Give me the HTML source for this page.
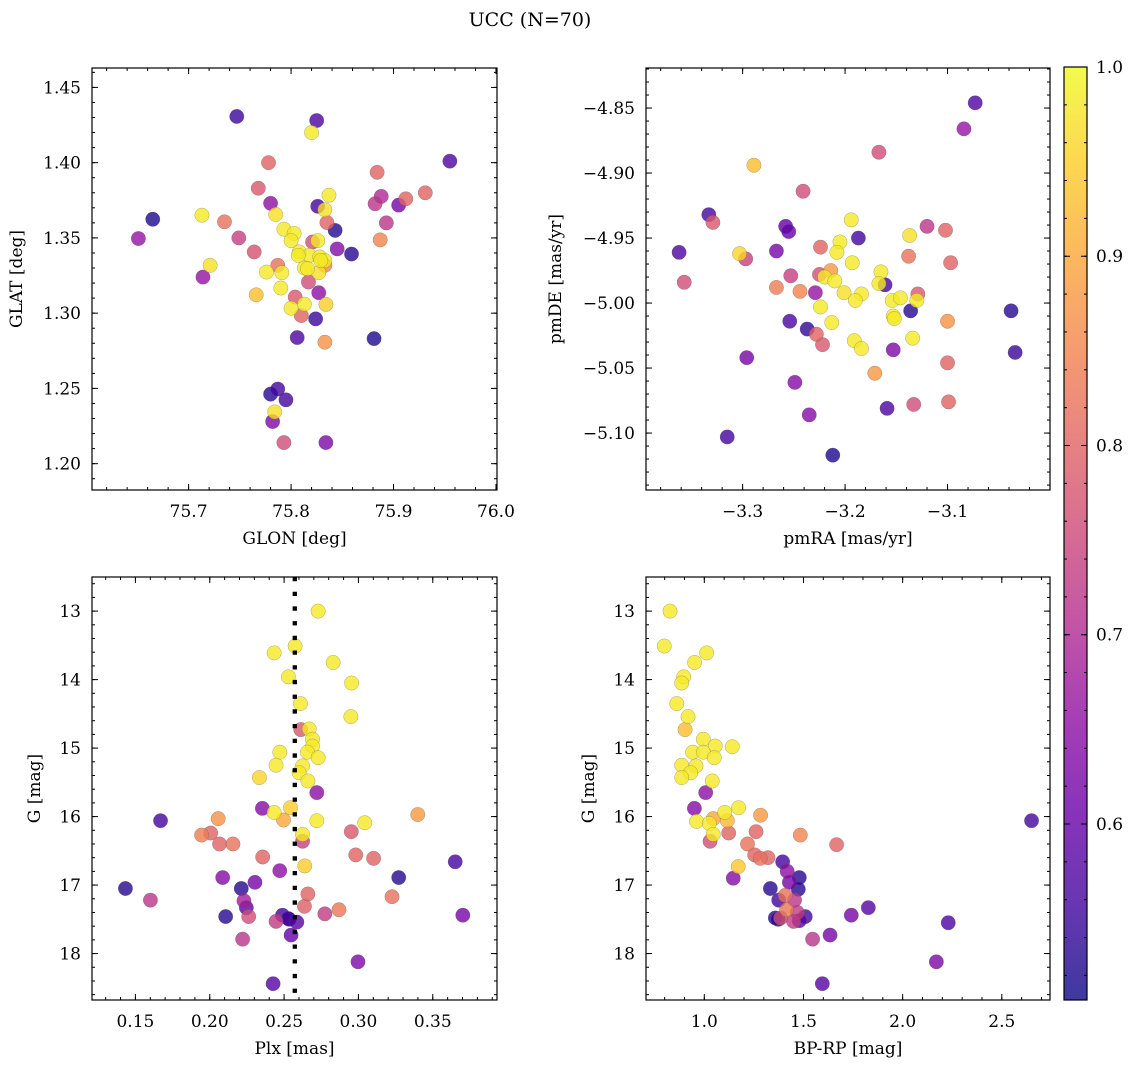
<!DOCTYPE html>
<html><head><meta charset="utf-8"><style>
body{margin:0;background:#fff;}
svg text{font-family:"DejaVu Serif","Liberation Serif",serif;fill:#000;}
</style></head><body>
<svg id="fig" width="1136" height="1067" viewBox="0 0 1136 1067" xmlns="http://www.w3.org/2000/svg">
<defs><linearGradient id="plasma" x1="0" y1="1" x2="0" y2="0">
<stop offset="0" stop-color="#0d0887"/><stop offset="0.1" stop-color="#41049d"/><stop offset="0.2" stop-color="#6a00a8"/><stop offset="0.3" stop-color="#8f0da4"/><stop offset="0.4" stop-color="#b12a90"/><stop offset="0.5" stop-color="#cc4778"/><stop offset="0.6" stop-color="#e16462"/><stop offset="0.7" stop-color="#f2844b"/><stop offset="0.8" stop-color="#fca636"/><stop offset="0.9" stop-color="#fcce25"/><stop offset="1" stop-color="#f0f921"/></linearGradient></defs>
<text x="530" y="26" font-size="19" text-anchor="middle">UCC (N=70)</text>
</svg>
<script>
// Panel 1: GLON vs GLAT
const p1Glon=[75.747,75.825,75.820,75.778,75.955,75.884,75.768,75.837,75.888,75.912,75.931,75.780,75.882,75.905,75.826,75.833,75.713,75.785,75.665,75.735,75.835,75.843,75.893,75.793,75.803,75.651,75.749,75.800,75.821,75.826,75.887,75.845,75.859,75.764,75.808,75.818,75.828,75.833,75.721,75.787,75.813,75.833,75.776,75.791,75.816,75.827,75.714,75.817,75.790,75.766,75.827,75.804,75.813,75.800,75.834,75.810,75.824,75.806,75.881,75.833,75.787,75.780,75.795,75.784,75.782,75.793,75.834,75.807,75.829];
const p1Glat=[1.4307,1.428,1.420,1.400,1.401,1.3936,1.383,1.3784,1.3776,1.376,1.380,1.373,1.3727,1.3718,1.371,1.3687,1.3651,1.3656,1.3624,1.3607,1.3602,1.355,1.360,1.3558,1.353,1.3496,1.350,1.3482,1.3473,1.3482,1.3487,1.3427,1.3393,1.3407,1.3407,1.3384,1.3373,1.335,1.3318,1.3318,1.330,1.3318,1.3273,1.3269,1.3296,1.3269,1.324,1.3207,1.3167,1.3122,1.3136,1.3107,1.306,1.3033,1.3058,1.2984,1.2962,1.2838,1.2831,1.2807,1.2496,1.2462,1.2424,1.2344,1.228,1.214,1.214,1.3384,1.335];
const p1Prob=[0.55,0.57,0.98,0.80,0.57,0.80,0.78,0.98,0.70,0.80,0.80,0.65,0.72,0.62,0.56,0.97,0.98,0.97,0.52,0.82,0.80,0.53,0.72,0.98,0.98,0.66,0.74,0.98,0.76,0.98,0.85,0.64,0.53,0.77,0.98,0.98,0.98,0.98,0.97,0.82,0.98,0.85,0.98,0.98,0.98,0.97,0.66,0.76,0.98,0.93,0.65,0.78,0.98,0.98,0.95,0.80,0.55,0.57,0.52,0.87,0.56,0.53,0.56,0.97,0.63,0.76,0.63,0.98,0.98];
// Panel 2: pmRA vs pmDE
const p2Pmra=[-3.073,-3.084,-3.167,-3.289,-3.241,-3.333,-3.329,-3.194,-3.120,-3.102,-3.258,-3.255,-3.137,-3.187,-3.205,-3.224,-3.362,-3.303,-3.267,-3.208,-3.297,-3.138,-3.097,-3.193,-3.357,-3.253,-3.225,-3.214,-3.220,-3.210,-3.165,-3.161,-3.167,-3.267,-3.244,-3.229,-3.201,-3.184,-3.190,-3.154,-3.146,-3.129,-3.130,-3.224,-3.136,-3.038,-3.153,-3.152,-3.254,-3.213,-3.100,-3.237,-3.228,-3.222,-3.191,-3.184,-3.134,-3.153,-3.034,-3.296,-3.100,-3.171,-3.249,-3.159,-3.133,-3.099,-3.235,-3.315,-3.212];
const p2Pmde=[-4.846,-4.866,-4.884,-4.894,-4.914,-4.932,-4.938,-4.936,-4.941,-4.944,-4.941,-4.945,-4.948,-4.950,-4.953,-4.957,-4.961,-4.962,-4.960,-4.961,-4.966,-4.964,-4.969,-4.969,-4.984,-4.979,-4.978,-4.975,-4.980,-4.983,-4.976,-4.986,-4.985,-4.988,-4.991,-4.992,-4.992,-4.993,-4.998,-4.998,-4.996,-4.993,-4.998,-5.003,-5.006,-5.006,-5.010,-5.012,-5.014,-5.015,-5.014,-5.020,-5.024,-5.032,-5.029,-5.035,-5.027,-5.036,-5.038,-5.042,-5.046,-5.054,-5.061,-5.081,-5.078,-5.076,-5.086,-5.103,-5.117];
const p2Prob=[0.57,0.66,0.76,0.93,0.76,0.56,0.78,0.98,0.72,0.80,0.60,0.60,0.97,0.56,0.98,0.80,0.57,0.96,0.62,0.98,0.74,0.82,0.80,0.98,0.76,0.74,0.76,0.88,0.98,0.98,0.98,0.56,0.98,0.84,0.85,0.66,0.97,0.98,0.98,0.98,0.98,0.78,0.98,0.98,0.53,0.53,0.98,0.98,0.57,0.98,0.87,0.54,0.80,0.78,0.98,0.98,0.98,0.63,0.55,0.62,0.80,0.88,0.64,0.57,0.76,0.80,0.64,0.56,0.52];
// Panel 3: Plx vs G
const p3Plx=[0.2729,0.2574,0.2433,0.2830,0.2529,0.2954,0.2610,0.2949,0.2612,0.2669,0.2691,0.2691,0.2657,0.2471,0.2729,0.2446,0.2624,0.2601,0.2660,0.2334,0.2720,0.2354,0.2543,0.2433,0.2496,0.2057,0.1669,0.2720,0.3399,0.3042,0.2006,0.1945,0.2952,0.2624,0.2624,0.2066,0.2156,0.2982,0.3102,0.2356,0.3651,0.2639,0.2471,0.2087,0.3271,0.2304,0.2212,0.1433,0.2660,0.3226,0.1601,0.2230,0.2246,0.2637,0.2869,0.2774,0.3702,0.2107,0.2262,0.2489,0.2534,0.2446,0.2586,0.2547,0.2221,0.2997,0.2426,0.2529];
const p3G=[13.00,13.51,13.61,13.75,13.96,14.05,14.35,14.54,14.73,14.72,14.87,14.97,15.06,15.06,15.14,15.25,15.26,15.36,15.48,15.43,15.65,15.88,15.87,15.94,16.05,16.03,16.06,16.06,15.97,16.09,16.24,16.27,16.22,16.26,16.36,16.40,16.40,16.56,16.61,16.59,16.66,16.72,16.79,16.89,16.89,16.96,17.05,17.05,17.13,17.17,17.22,17.23,17.33,17.31,17.36,17.42,17.44,17.46,17.46,17.44,17.50,17.53,17.54,17.73,17.79,18.12,18.44,17.49];
const p3Prob=[0.98,0.98,0.98,0.98,0.98,0.98,0.98,0.98,0.78,0.98,0.98,0.98,0.98,0.98,0.98,0.98,0.98,0.98,0.98,0.96,0.65,0.64,0.95,0.98,0.90,0.87,0.56,0.98,0.88,0.98,0.80,0.84,0.78,0.98,0.74,0.80,0.82,0.80,0.80,0.80,0.56,0.95,0.65,0.64,0.53,0.62,0.53,0.53,0.80,0.82,0.72,0.68,0.58,0.79,0.83,0.73,0.62,0.53,0.76,0.56,0.52,0.73,0.58,0.60,0.72,0.63,0.58,0.56];
// Panel 4: BP-RP vs G
const p4Bprp=[0.827,0.798,1.012,0.951,0.896,0.886,0.861,0.918,0.903,0.995,1.055,1.141,0.941,0.995,1.050,0.886,0.958,0.931,0.886,1.040,1.007,0.950,1.173,1.103,1.284,1.045,1.116,2.650,0.961,1.025,1.261,1.123,1.045,1.484,1.029,1.667,1.218,1.254,1.321,1.282,1.395,1.171,1.418,1.146,1.479,1.429,1.333,1.474,1.408,1.455,1.375,1.827,1.415,1.469,1.741,1.358,1.385,1.509,1.373,1.450,1.479,2.230,1.634,1.546,2.170,1.595];
const p4G=[13.00,13.51,13.61,13.75,13.96,14.05,14.35,14.54,14.73,14.87,14.97,14.98,15.06,15.06,15.14,15.25,15.26,15.36,15.43,15.48,15.65,15.88,15.87,15.94,15.98,16.03,16.06,16.06,16.07,16.10,16.22,16.24,16.26,16.27,16.36,16.41,16.40,16.56,16.60,16.61,16.66,16.73,16.80,16.90,16.89,16.96,17.05,17.06,17.15,17.22,17.22,17.33,17.36,17.40,17.44,17.48,17.48,17.46,17.50,17.53,17.52,17.55,17.73,17.79,18.12,18.44];
const p4Prob=[0.98,0.98,0.98,0.98,0.98,0.98,0.98,0.98,0.93,0.98,0.98,0.98,0.98,0.98,0.98,0.98,0.98,0.98,0.98,0.98,0.65,0.64,0.98,0.98,0.88,0.90,0.92,0.56,0.98,0.98,0.80,0.80,0.98,0.85,0.76,0.80,0.82,0.80,0.80,0.82,0.56,0.94,0.65,0.64,0.53,0.62,0.53,0.53,0.82,0.72,0.56,0.58,0.83,0.73,0.62,0.53,0.76,0.56,0.52,0.73,0.58,0.57,0.62,0.72,0.63,0.58];
// Tick values
const p1XTicks=[75.7,75.8,75.9,76.0];
const p1YTicks=[1.20,1.25,1.30,1.35,1.40,1.45];
const p2XTicks=[-3.3,-3.2,-3.1];
const p2YTicks=[-4.85,-4.90,-4.95,-5.00,-5.05,-5.10];
const p3XTicks=[0.15,0.20,0.25,0.30,0.35];
const gTicks=[13,14,15,16,17,18];
const p4XTicks=[1.0,1.5,2.0,2.5];
const cbTicks=[0.6,0.7,0.8,0.9,1.0];
const plxLine=[0.2572];
const CMIN=0.507, CMAX=1.0;

const NS='http://www.w3.org/2000/svg';
const svg=document.getElementById('fig');
function mk(tag,attrs,parent){const e=document.createElementNS(NS,tag);for(const k in attrs)e.setAttribute(k,attrs[k]);(parent||svg).appendChild(e);return e;}
const stops=[[13,8,135],[65,4,157],[106,0,168],[143,13,164],[177,42,144],[204,71,120],[225,100,98],[242,132,75],[252,166,54],[252,206,37],[240,249,33]];
function cmap(p){let t=(p-CMIN)/(CMAX-CMIN);t=Math.max(0,Math.min(1,t))*10;const i=Math.min(9,Math.floor(t)),f=t-i;const a=stops[i],b=stops[i+1];return 'rgb('+a.map((v,k)=>Math.round(v+(b[k]-v)*f)).join(',')+')';}
function fmt(v,d){return (v<0?'\u2212':'')+Math.abs(v).toFixed(d);}
const FS=17;

function panel(o){
  const g=mk('g',{});
  
  
  const sx=v=>o.L+(v-o.xmin)/(o.xmax-o.xmin)*(o.R-o.L);
  const sy=v=>o.inv? o.T+(v-o.ymin)/(o.ymax-o.ymin)*(o.B-o.T) : o.B-(v-o.ymin)/(o.ymax-o.ymin)*(o.B-o.T);
  const idx=o.px.map((_,i)=>i).sort((a,b)=>o.pp[a]-o.pp[b]);
  const pg=mk('g',{},g);
  
  
  idx.forEach(i=>{
    const c=mk('circle',{cx:sx(o.px[i]),cy:sy(o.py[i]),r:7.2,fill:cmap(o.pp[i]),'fill-opacity':0.8,stroke:'#555','stroke-width':0.4,'stroke-opacity':0.6},pg);
    
    
  });
  if(o.vline){o.vline.forEach(v=>{const l=mk('line',{x1:sx(v),x2:sx(v),y1:o.T,y2:o.B,stroke:'#000','stroke-width':4.3,'stroke-dasharray':'4.3 10.4'},g);
    
    });}
  const fr=mk('rect',{x:o.L,y:o.T,width:o.R-o.L,height:o.B-o.T,fill:'none',stroke:'#000','stroke-width':1.2},g);
  
  
  const tk=mk('g',{stroke:'#000','stroke-width':1},g);
  
  
  for(let v=Math.ceil(o.xmin/o.xm)*o.xm;v<=o.xmax+1e-9;v+=o.xm){const x=sx(v);mk('line',{x1:x,x2:x,y1:o.B,y2:o.B-3},tk);mk('line',{x1:x,x2:x,y1:o.T,y2:o.T+3},tk);}
  for(let v=Math.ceil(o.ymin/o.ym)*o.ym;v<=o.ymax+1e-9;v+=o.ym){const y=sy(v);mk('line',{x1:o.L,x2:o.L+3,y1:y,y2:y},tk);mk('line',{x1:o.R,x2:o.R-3,y1:y,y2:y},tk);}
  o.xt.forEach(v=>{const x=sx(v);mk('line',{x1:x,x2:x,y1:o.B,y2:o.B-6},tk);mk('line',{x1:x,x2:x,y1:o.T,y2:o.T+6},tk);
    const t=mk('text',{x:x,y:o.B+27,'font-size':FS,'text-anchor':'middle'},g);t.textContent=fmt(v,o.xd);
    
    });
  o.yt.forEach(v=>{const y=sy(v);mk('line',{x1:o.L,x2:o.L+6,y1:y,y2:y},tk);mk('line',{x1:o.R,x2:o.R-6,y1:y,y2:y},tk);
    const t=mk('text',{x:o.L-11,y:y+6,'font-size':FS,'text-anchor':'end'},g);t.textContent=fmt(v,o.yd);
    
    });
  const xl=mk('text',{x:(o.L+o.R)/2,y:o.B+54,'font-size':FS,'text-anchor':'middle'},g);xl.textContent=o.xlab;
  
  
  const yl=mk('text',{x:o.ylx,y:(o.T+o.B)/2,'font-size':FS,'text-anchor':'middle',transform:'rotate(-90 '+o.ylx+' '+(o.T+o.B)/2+')'},g);yl.textContent=o.ylab;
  
  
}
panel({name:'glon-glat-panel',L:92,R:497,T:68,B:490,xmin:75.6057,xmax:76.001,ymin:1.1825,ymax:1.4629,xm:0.02,ym:0.01,xt:p1XTicks,yt:p1YTicks,xd:1,yd:2,px:p1Glon,py:p1Glat,pp:p1Prob,xlab:'GLON [deg]',ylab:'GLAT [deg]',ylx:22});
panel({name:'pm-panel',L:646,R:1050,T:68,B:490,xmin:-3.3943,xmax:-3.0,ymin:-5.1438,ymax:-4.8192,xm:0.02,ym:0.01,xt:p2XTicks,yt:p2YTicks,xd:1,yd:2,px:p2Pmra,py:p2Pmde,pp:p2Prob,xlab:'pmRA [mas/yr]',ylab:'pmDE [mas/yr]',ylx:561});
panel({name:'plx-g-panel',L:92,R:497,T:577,B:1000,xmin:0.1208,xmax:0.3932,ymin:12.502,ymax:18.678,inv:true,xm:0.01,ym:0.2,xt:p3XTicks,yt:gTicks,xd:2,yd:0,px:p3Plx,py:p3G,pp:p3Prob,xlab:'Plx [mas]',ylab:'G [mag]',ylx:40,vline:plxLine});
panel({name:'cmd-panel',L:646,R:1050,T:577,B:1000,xmin:0.706,xmax:2.743,ymin:12.502,ymax:18.678,inv:true,xm:0.1,ym:0.2,xt:p4XTicks,yt:gTicks,xd:1,yd:0,px:p4Bprp,py:p4G,pp:p4Prob,xlab:'BP-RP [mag]',ylab:'G [mag]',ylx:594});
const cb=mk('g',{});


const CL=1064,CR=1087,CT=67,CB=1000;
mk('rect',{x:CL,y:CT,width:CR-CL,height:CB-CT,fill:'url(#plasma)','fill-opacity':0.8},cb);
mk('rect',{x:CL,y:CT,width:CR-CL,height:CB-CT,fill:'none',stroke:'#000','stroke-width':1.2},cb);
const cy=v=>CB-(v-CMIN)/(CMAX-CMIN)*(CB-CT);
for(let v=0.52;v<=1.0001;v+=0.02){const y=cy(v);mk('line',{x1:CL,x2:CL+3,y1:y,y2:y,stroke:'#000'},cb);mk('line',{x1:CR,x2:CR-3,y1:y,y2:y,stroke:'#000'},cb);}
cbTicks.forEach(v=>{const y=cy(v);mk('line',{x1:CL,x2:CL+6,y1:y,y2:y,stroke:'#000'},cb);mk('line',{x1:CR,x2:CR-6,y1:y,y2:y,stroke:'#000'},cb);
  const t=mk('text',{x:CR+9,y:y+6,'font-size':FS},cb);t.textContent=v.toFixed(1);
  
  });
</script>
</body></html>
